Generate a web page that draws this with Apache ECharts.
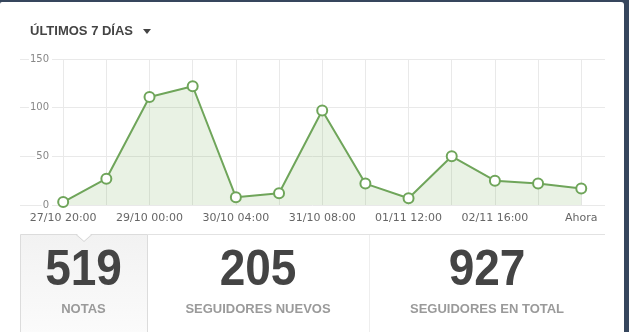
<!DOCTYPE html>
<html><head><meta charset="utf-8">
<script src="https://cdn.jsdelivr.net/npm/echarts@6/dist/echarts.min.js"></script>
<style>
html,body{margin:0;padding:0;background:#36465d;}
#wrap{position:relative;width:629px;height:332px;overflow:hidden;}
#panel{position:absolute;left:0;top:2px;width:624px;height:330px;background:#fff;border-top-right-radius:3px;border-top-left-radius:2px;}
#chart{position:absolute;left:0;top:0;width:629px;height:332px;}
</style></head><body>
<div id="wrap"><div id="panel"></div><div id="chart"></div></div>
<script>
const title = 'ÚLTIMOS 7 DÍAS';
const tickLabels = ['27/10 20:00','','29/10 00:00','','30/10 04:00','','31/10 08:00','','01/11 12:00','','02/11 16:00','','Ahora'];
const values = [3, 27, 111, 122, 8, 12, 97, 22, 7, 50, 25, 22, 17];
const yTicks = [0, 50, 100, 150];
const statValues = ['519', '205', '927'];
const statLabels = ['NOTAS', 'SEGUIDORES NUEVOS', 'SEGUIDORES EN TOTAL'];

const GREEN = '#6fa55a';
const seriesData = values.map((v, i) => [i, v]);
const statCenters = [83.5, 258, 487];

const chart = echarts.init(document.getElementById('chart'), null, {renderer: 'canvas'});

const yBase = {
  type: 'value', min: yTicks[0], max: yTicks[yTicks.length - 1],
  interval: yTicks[1] - yTicks[0], position: 'left',
  axisLine: {show: false}, axisTick: {show: false}
};

const graphics = [
  {type: 'text', left: 30, top: 25, z: 10, style: {text: title, font: 'bold 13px "Liberation Sans", Arial, sans-serif', fill: '#444'}},
  {type: 'polygon', z: 10, shape: {points: [[143, 29], [151, 29], [147, 34]]}, style: {fill: '#444'}},
  {type: 'rect', z: 1, shape: {x: 20.5, y: 234.5, width: 127, height: 110},
   style: {fill: new echarts.graphic.LinearGradient(0, 0, 0, 1, [{offset: 0, color: '#f2f2f2'}, {offset: 1, color: '#fcfcfc'}]), stroke: '#dcdcdc', lineWidth: 1}},
  {type: 'line', z: 1, shape: {x1: 147, y1: 234.5, x2: 605, y2: 234.5}, style: {stroke: '#e2e2e2', lineWidth: 1}},
  {type: 'line', z: 1, shape: {x1: 369.5, y1: 235, x2: 369.5, y2: 332}, style: {stroke: '#eeeeee', lineWidth: 1}},
  {type: 'polygon', z: 2, shape: {points: [[76, 233], [84, 241], [92, 233]]}, style: {fill: '#fff'}},
  {type: 'polyline', z: 2, shape: {points: [[76, 234.5], [84, 241.5], [92, 234.5]]}, style: {stroke: '#d8d8d8', lineWidth: 1, fill: null}}
];
statValues.forEach((v, i) => {
  graphics.push({type: 'text', z: 5, x: statCenters[i], y: 271.5, scaleX: 0.92,
    style: {text: v, font: 'bold 50px "Liberation Sans", Arial, sans-serif', fill: '#444', align: 'center', verticalAlign: 'middle'}});
  graphics.push({type: 'text', z: 5, x: statCenters[i], y: 309,
    style: {text: statLabels[i], font: 'bold 13px "Liberation Sans", Arial, sans-serif', fill: '#9a9a9a', align: 'center', verticalAlign: 'middle'}});
});

chart.setOption({
  animation: false,
  backgroundColor: 'transparent',
  grid: {left: 20, right: 24, top: 59, bottom: 127, containLabel: false},
  xAxis: {
    type: 'value', min: -1, max: 12.55, interval: 1,
    axisLine: {show: false}, axisTick: {show: false},
    splitLine: {show: true, showMinLine: false, showMaxLine: false, lineStyle: {color: '#e9e9e9', width: 1}},
    axisLabel: {
      show: true, margin: 8, color: '#666', fontSize: 11, fontFamily: '"DejaVu Sans", sans-serif',
      showMinLabel: true, showMaxLabel: true,
      formatter: function (v) {
        const i = Math.round(v);
        if (Math.abs(v - i) > 1e-6 || i < 0 || i >= tickLabels.length) return '';
        return tickLabels[i];
      }
    }
  },
  yAxis: [
    Object.assign({}, yBase, {
      z: 0,
      splitLine: {show: true, lineStyle: {color: '#e9e9e9', width: 1}},
      axisLabel: {show: false}
    }),
    Object.assign({}, yBase, {
      z: 3,
      splitLine: {show: false},
      axisLabel: {
        show: true, inside: true, align: 'right', margin: 32, verticalAlign: 'middle',
        color: '#888', fontSize: 10, fontFamily: '"DejaVu Sans", sans-serif',
        backgroundColor: '#fff', padding: [1, 3, 1, 1]
      }
    })
  ],
  series: [{
    type: 'line', xAxisIndex: 0, yAxisIndex: 0, z: 4,
    data: seriesData,
    symbol: 'circle', symbolSize: 10,
    lineStyle: {color: GREEN, width: 2},
    itemStyle: {color: '#fff', borderColor: GREEN, borderWidth: 2},
    areaStyle: {color: 'rgba(112,170,80,0.22)', origin: 'start'},
    emphasis: {disabled: true}
  }],
  graphic: graphics
});
</script>
</body></html>
